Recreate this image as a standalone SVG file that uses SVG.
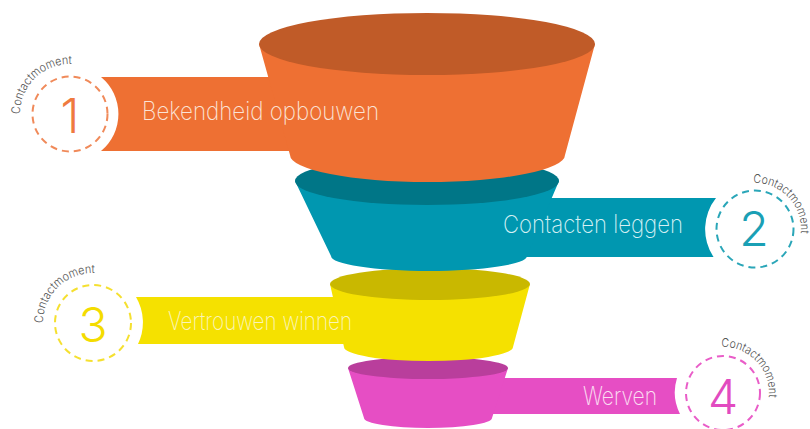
<svg xmlns="http://www.w3.org/2000/svg" width="810" height="429" viewBox="0 0 810 429">
<style>
.lbl{font-family:Inter,"DejaVu Sans","Liberation Sans",sans-serif;font-weight:200;font-size:25px}
.num{font-family:Inter,"DejaVu Sans","Liberation Sans",sans-serif;font-weight:300;font-size:48px;text-anchor:middle}
.cm{font-family:Inter,"DejaVu Sans","Liberation Sans",sans-serif;font-weight:300;font-size:12px;fill:#555}
.ring{fill:none;stroke-width:2;stroke-dasharray:7 5}
</style>
<defs>
<path id="arc1" d="M 20 114 A 50 50 0 0 1 95 70.7"/>
<path id="arc2" d="M 753.4 183 A 46 46 0 0 1 794.8 252"/>
<path id="arc3" d="M 43 323 A 50 50 0 0 1 118 279.7"/>
<path id="arc4" d="M 721.4 347 A 46 46 0 0 1 762.8 416"/>
</defs>
<g id="connectors"></g>
<g id="stage4">
<path d="M 470 378 L 677 378 A 48 48 0 0 0 680 414 L 470 414 Z" fill="#e64ec4"/>
<path d="M 348 368 L 364 418 A 64 10 0 0 0 492 418 L 508 368 Z" fill="#e64ec4"/>
<ellipse cx="428" cy="368" rx="80" ry="11" fill="#b93e9c"/>
<text class="lbl" x="657" y="405" text-anchor="end" fill="#fbe0f3" textLength="74" lengthAdjust="spacingAndGlyphs">Werven</text>
<circle class="ring" cx="723" cy="393" r="37" stroke="#e95dc8"/>
<text class="num" x="723" y="414" fill="#e24bc0">4</text>
<text class="cm"><textPath href="#arc4" textLength="78" lengthAdjust="spacingAndGlyphs">Contactmoment</textPath></text>
</g>
<g id="stage3">
<path d="M 136 297 L 400 297 L 400 344 L 138 344 A 50 50 0 0 0 136 297 Z" fill="#f5e100"/>
<path d="M 330 284 L 344 347 A 84.5 14 0 0 0 513 347 L 530 284 Z" fill="#f5e100"/>
<ellipse cx="430" cy="284" rx="100" ry="16" fill="#c9b800"/>
<text class="lbl" x="168" y="330" fill="#fbf4b8" textLength="184" lengthAdjust="spacingAndGlyphs">Vertrouwen winnen</text>
<circle class="ring" cx="93" cy="323" r="38" stroke="#f5e030"/>
<text class="num" x="93" y="342" fill="#f4dc00">3</text>
<text class="cm"><textPath href="#arc3" textLength="80" lengthAdjust="spacingAndGlyphs">Contactmoment</textPath></text>
</g>
<g id="stage2">
<path d="M 500 198 L 716 198 A 50 50 0 0 0 713.6 257 L 500 257 Z" fill="#0097b0"/>
<path d="M 295 181 L 331 256 A 98 15 0 0 0 527 256 L 559 181 Z" fill="#0097b0"/>
<ellipse cx="427" cy="181" rx="132" ry="24" fill="#007687"/>
<text class="lbl" x="683" y="233" text-anchor="end" fill="#d6f0f4" textLength="180" lengthAdjust="spacingAndGlyphs">Contacten leggen</text>
<circle class="ring" cx="755" cy="229" r="38.5" stroke="#2aa6b8"/>
<text class="num" x="754" y="246" fill="#1aa0b5">2</text>
<text class="cm"><textPath href="#arc2" textLength="78" lengthAdjust="spacingAndGlyphs">Contactmoment</textPath></text>
</g>
<g id="stage1">
<path d="M 101 77 L 300 77 L 300 151 L 101 151 A 48 48 0 0 0 101 77 Z" fill="#ee7033"/>
<path d="M 259 44 L 290 155 A 137.5 27 0 0 0 565 155 L 595 44 Z" fill="#ee7033"/>
<ellipse cx="427" cy="44" rx="168" ry="31" fill="#c05b28"/>
<text class="lbl" x="142" y="120" fill="#fbe3d6" textLength="237" lengthAdjust="spacingAndGlyphs">Bekendheid opbouwen</text>
<circle class="ring" cx="70" cy="114" r="37.5" stroke="#f08a5a"/>
<text class="num" x="70" y="133" fill="#ef7a3f">1</text>
<text class="cm"><textPath href="#arc1" textLength="80" lengthAdjust="spacingAndGlyphs">Contactmoment</textPath></text>
</g>
</svg>
